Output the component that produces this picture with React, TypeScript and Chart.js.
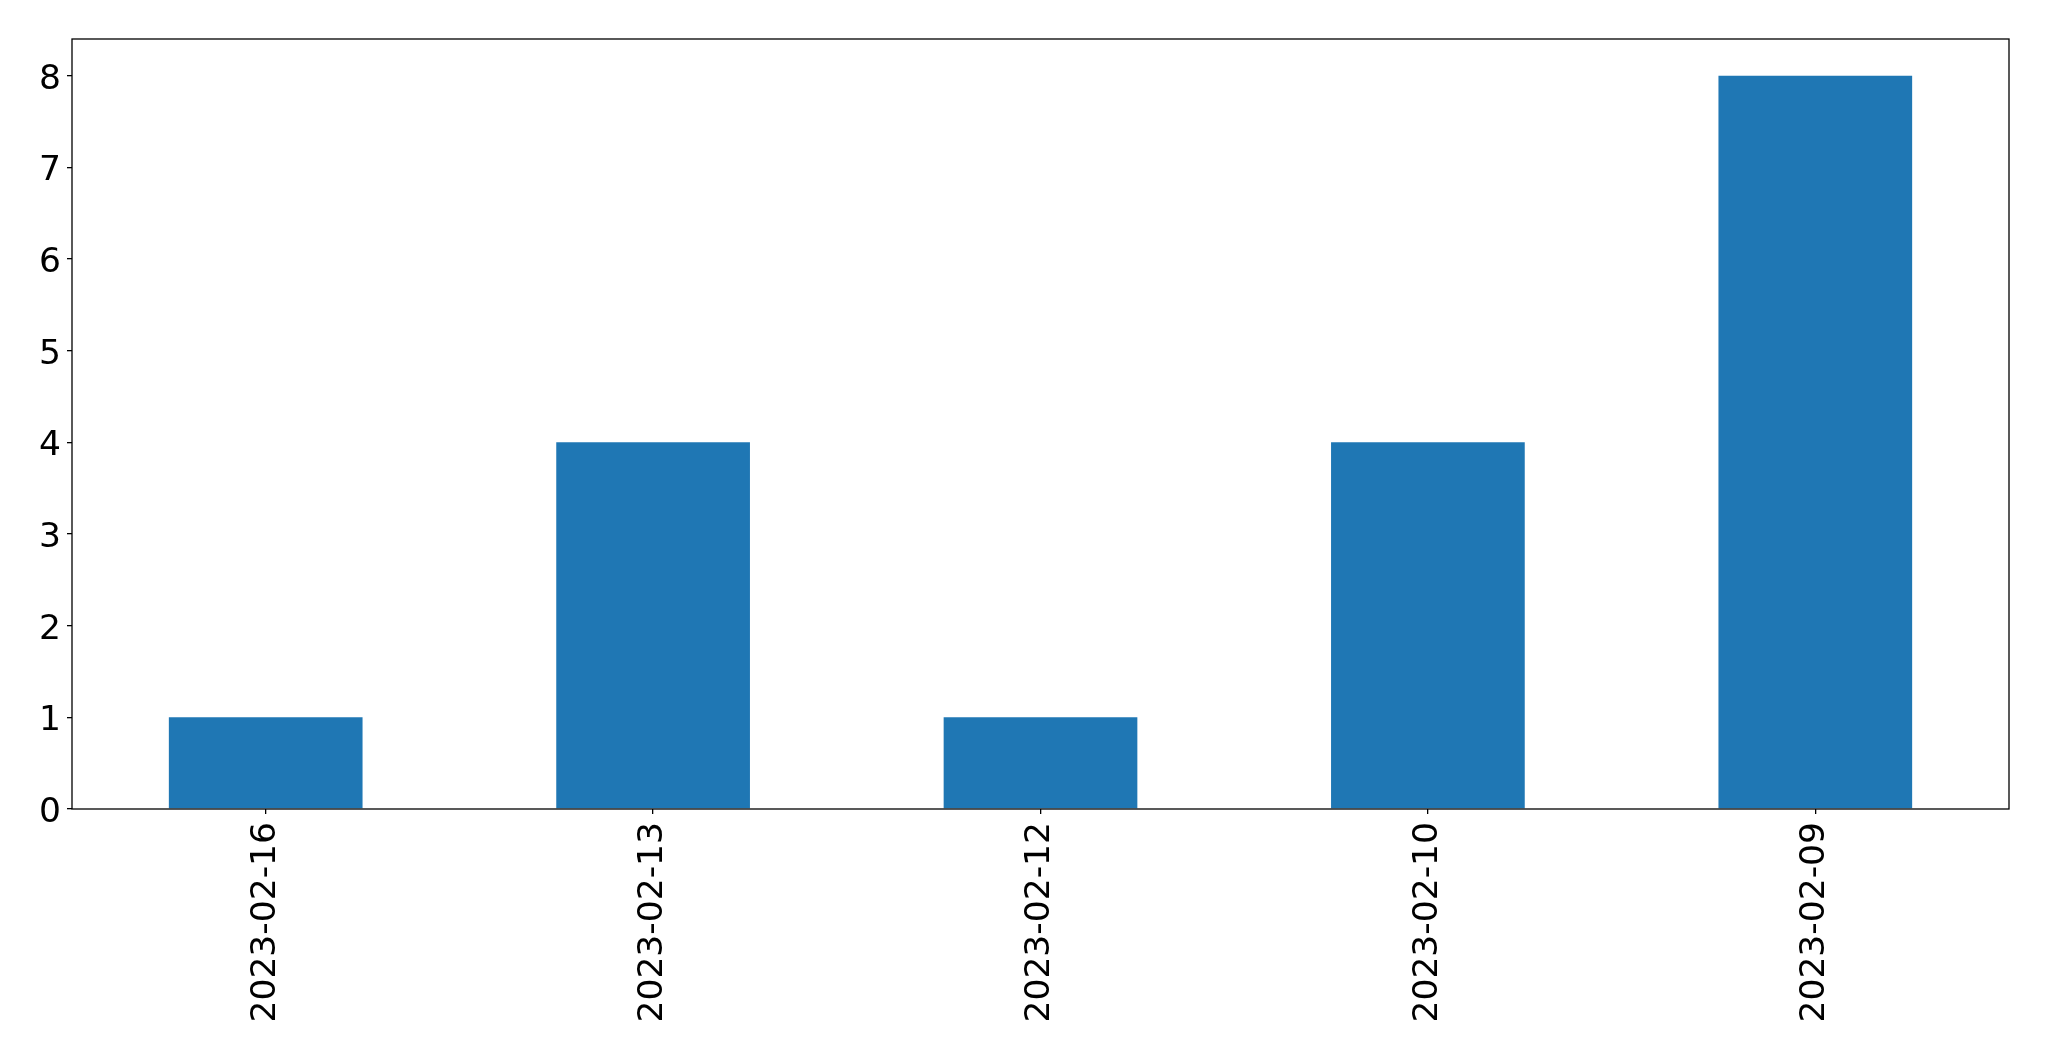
import React, { useEffect, useRef } from "react";
import { Chart, registerables } from "chart.js";

Chart.register(...registerables);

const categories = ["2023-02-16", "2023-02-13", "2023-02-12", "2023-02-10", "2023-02-09"];
const values = [1, 4, 1, 4, 8];
const yTicks = [0, 1, 2, 3, 4, 5, 6, 7, 8];
const yMax = 8.4;

const frame = {
  id: "frame",
  afterDraw(chart: any) {
    const { ctx, chartArea } = chart;
    ctx.save();
    ctx.strokeStyle = "#000";
    ctx.lineWidth = 1.3;
    ctx.strokeRect(chartArea.left, chartArea.top, chartArea.right - chartArea.left, chartArea.bottom - chartArea.top);
    ctx.restore();
  },
};

export default function App() {
  const ref = useRef<HTMLCanvasElement>(null);
  useEffect(() => {
    const font = { family: "'DejaVu Sans'", size: 34.5 };
    const chart = new Chart(ref.current!, {
      type: "bar",
      data: {
        labels: categories,
        datasets: [
          {
            data: values,
            backgroundColor: "#1f77b4",
            borderWidth: 0,
            barPercentage: 0.5,
            categoryPercentage: 1,
          },
        ],
      },
      options: {
        animation: false,
        responsive: false,
        devicePixelRatio: 1,
        layout: { padding: { top: 39, right: 40, left: 0, bottom: 0 } },
        plugins: { legend: { display: false }, tooltip: { enabled: false } },
        scales: {
          x: {
            offset: true,
            grid: { display: true, offset: false, drawOnChartArea: false, drawTicks: true, tickLength: 5, color: "#000", lineWidth: 1.3 },
            border: { display: false },
            ticks: { color: "#000", font, maxRotation: 90, minRotation: 90, padding: 8, autoSkip: false },
            afterFit: (s: any) => {
              s.height = 252;
            },
          },
          y: {
            min: 0,
            max: yMax,
            grid: { display: true, drawOnChartArea: false, drawTicks: true, tickLength: 5, color: "#000", lineWidth: 1.3 },
            border: { display: false },
            ticks: { color: "#000", font, padding: 6, labelOffset: 4 },
            afterBuildTicks: (s: any) => {
              s.ticks = yTicks.map((v) => ({ value: v }));
            },
            afterFit: (s: any) => {
              s.width = 72;
            },
          },
        },
      },
      plugins: [frame],
    });
    return () => chart.destroy();
  }, []);
  return (
    <canvas
      ref={ref}
      width={2049}
      height={1061}
      style={{ position: "fixed", left: 0, top: 0, width: 2049, height: 1061, background: "#fff" }}
    />
  );
}
